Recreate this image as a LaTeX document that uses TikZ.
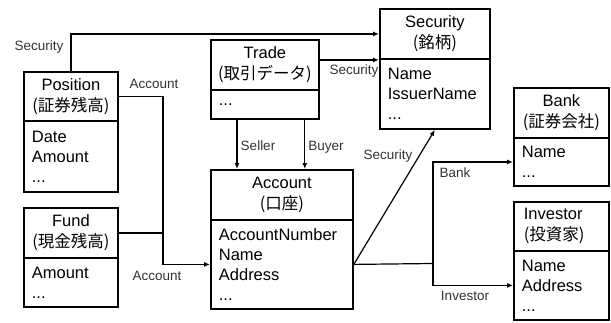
\documentclass[tikz,border=0pt]{standalone}
\usepackage{fontspec}
\setmainfont{Liberation Sans}
\newfontfamily\jp{Noto Sans CJK JP}
\usetikzlibrary{arrows.meta}
\begin{document}
\begin{tikzpicture}[x=1pt,y=-1pt,
 box/.style={draw, line width=1.8pt, inner sep=0pt, anchor=north west},
 hdr/.style={box, align=center, font=\fontsize{16.5}{21}\selectfont},
 bdy/.style={box, align=left, inner xsep=8pt, font=\fontsize{16.5}{20}\selectfont},
 arr/.style={line width=1.2pt, -{Latex[length=6pt,width=5pt]}},
 ln/.style={line width=1.2pt},
 lbl/.style={font=\fontsize{13.5}{16}\selectfont, inner sep=0pt, text=black!80}
]
\useasboundingbox (0,0) rectangle (611,322);

% Position
\node[hdr, minimum width=94pt, minimum height=49pt] (posH) at (23,71) {Position\\{\jp(証券残高)}};
\node[bdy, minimum height=71pt, text width=78pt] (posB) at (23,120) {Date\\Amount\\...};
% Fund
\node[hdr, minimum width=94pt, minimum height=50pt] (fndH) at (23,207) {Fund\\{\jp(現金残高)}};
\node[bdy, minimum height=49pt, text width=78pt] (fndB) at (23,257) {Amount\\...};
% Trade
\node[hdr, minimum width=108pt, minimum height=50pt] (trdH) at (210,39) {Trade\\{\jp(取引データ)}};
\node[bdy, minimum height=29pt, text width=92pt] (trdB) at (210,89) {...};
% Account
\node[hdr, minimum width=142pt, minimum height=50pt] (accH) at (210,169) {Account\\{\jp(口座)}};
\node[bdy, minimum height=89pt, text width=126pt] (accB) at (210,219) {AccountNumber\\Name\\Address\\...};
% Security
\node[hdr, minimum width=110pt, minimum height=50pt] (secH) at (379,8) {Security\\{\jp(銘柄)}};
\node[bdy, minimum height=70pt, text width=94pt] (secB) at (379,58) {Name\\IssuerName\\...};
% Bank
\node[hdr, minimum width=95pt, minimum height=50pt] (bnkH) at (513,87) {Bank\\{\jp(証券会社)}};
\node[bdy, minimum height=48pt, text width=79pt] (bnkB) at (513,137) {Name\\...};
% Investor
\node[hdr, align=left, inner xsep=10pt, text width=75pt, minimum height=49pt] (invH) at (513,201) {Investor\\{\jp(投資家)}};
\node[bdy, minimum height=69pt, text width=79pt] (invB) at (513,250) {Name\\Address\\...};

\coordinate (j) at (163,231);
\coordinate (k) at (433,263.5);

% connectors
\draw[arr] (posH.north) |- (secH.west);
\draw[arr] ([yshift=5pt]trdH.east) -- ([yshift=5pt]trdH.east -| secH.west);
\draw[arr] ([xshift=27pt]trdB.south west) -- ([xshift=27pt]trdB.south west |- accH.north);
\draw[arr] ([xshift=-15pt]trdB.south east) -- ([xshift=-15pt]trdB.south east |- accH.north);
\draw[arr] (posH.east) -| (j) |- (accB.west);
\draw[ln] (fndH.east) -- (fndH.east -| j);
\draw[arr] (accB.east) -- (secB.south);
\draw[ln] (accB.east) -- (k);
\draw[arr] (k) |- (bnkB.west);
\draw[arr] (k) |- (invB.west);

% labels
\node[lbl] (l1) at (39,47) {Security};
\node[lbl] (l2) at (354,71) {Security};
\node[lbl] (l3) at (258,146) {Seller};
\node[lbl] (l4) at (326,147) {Buyer};
\node[lbl] (l5) at (154,84) {Account};
\node[lbl] (l6) at (157,276) {Account};
\node[lbl] (l7) at (388,156) {Security};
\node[lbl] (l8) at (455,173) {Bank};
\node[lbl] (l9) at (465,296) {Investor};
\end{tikzpicture}
\end{document}
